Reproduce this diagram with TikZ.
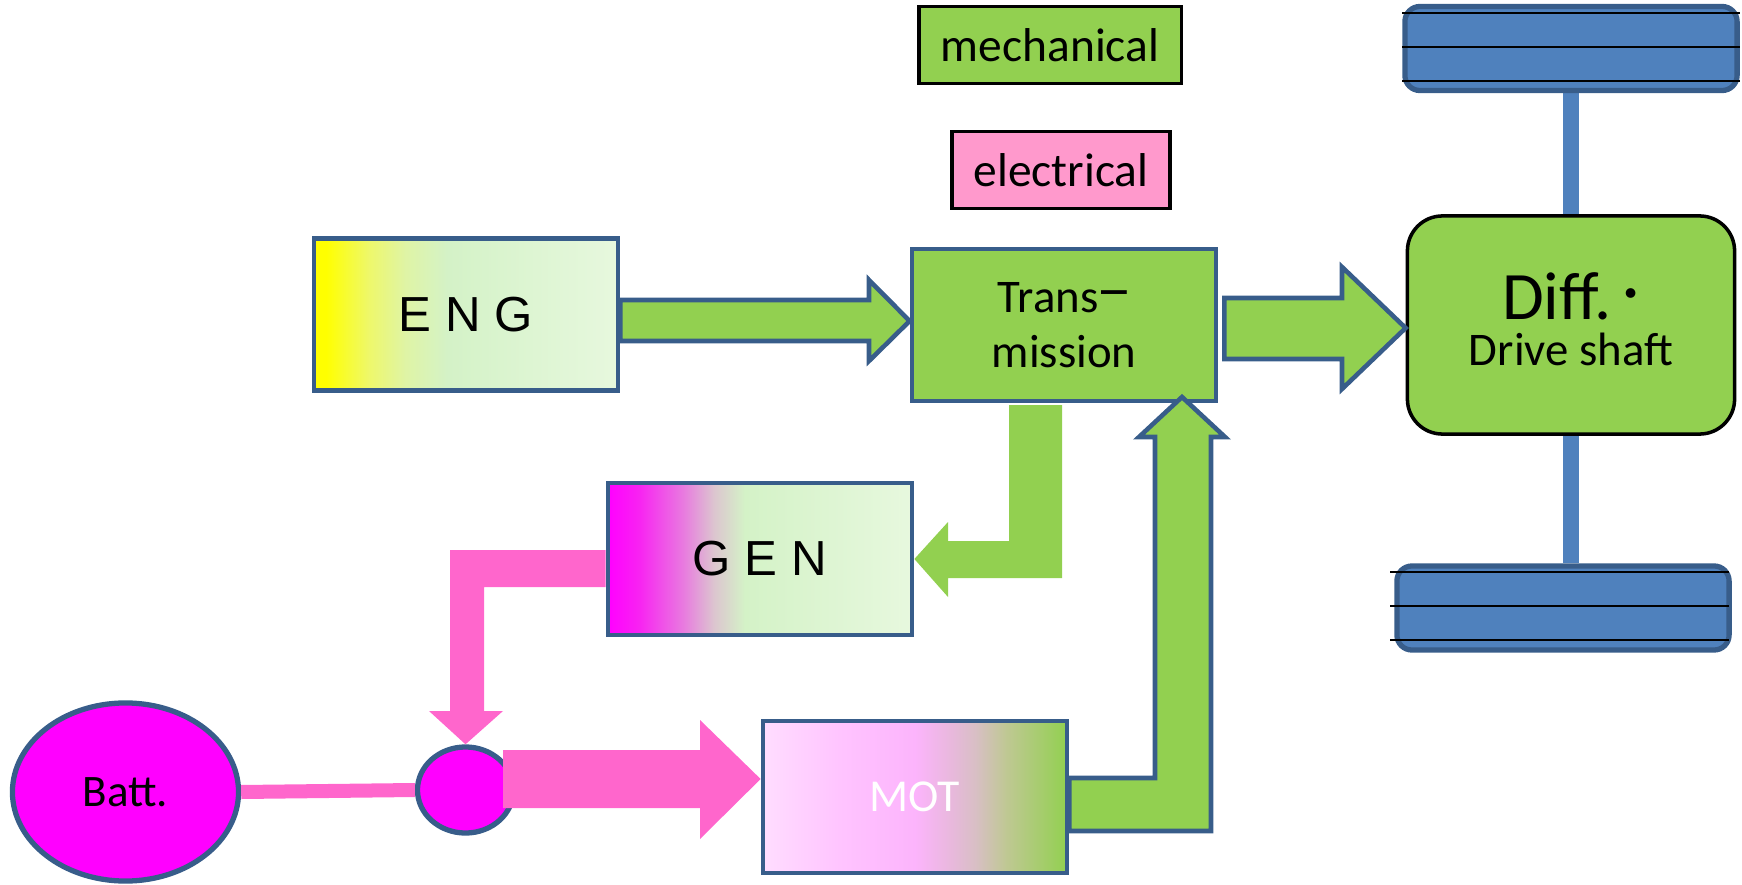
\documentclass[tikz,border=0pt]{standalone}
\usepackage{fontspec}
\setmainfont{Carlito}
\newfontfamily\arialfont{Liberation Sans}
\usetikzlibrary{positioning,calc,shapes.geometric,backgrounds}
\definecolor{HybGreen}{RGB}{146,208,80}
\definecolor{HybPink}{RGB}{255,102,204}
\definecolor{HybLegendPink}{RGB}{255,153,204}
\definecolor{HybBorder}{RGB}{56,93,138}
\definecolor{HybWheel}{RGB}{79,129,189}
\definecolor{HybMagenta}{RGB}{255,0,255}
\definecolor{engA}{RGB}{238,248,106}
\definecolor{engB}{RGB}{223,244,165}
\definecolor{engC}{RGB}{212,242,199}
\definecolor{engD}{RGB}{231,248,222}
\definecolor{genA}{RGB}{248,34,242}
\definecolor{genB}{RGB}{232,124,223}
\definecolor{genC}{RGB}{220,198,207}
\definecolor{motA}{RGB}{255,221,255}
\definecolor{motB}{RGB}{255,196,255}
\definecolor{motC}{RGB}{252,180,252}
\definecolor{motD}{RGB}{232,184,220}
\definecolor{motE}{RGB}{216,191,196}
\definecolor{motF}{RGB}{191,200,147}
\pgfdeclarehorizontalshading{engshade}{100bp}{color(0bp)=(yellow); color(25bp)=(yellow); color(27bp)=(yellow); color(34bp)=(engA); color(40bp)=(engB); color(47bp)=(engC); color(75bp)=(engD); color(100bp)=(engD)}
\pgfdeclarehorizontalshading{genshade}{100bp}{color(0bp)=(HybMagenta); color(25bp)=(HybMagenta); color(30bp)=(genA); color(37.5bp)=(genB); color(42.5bp)=(genC); color(47.5bp)=(engC); color(75bp)=(engD); color(100bp)=(engD)}
\pgfdeclarehorizontalshading{motshade}{100bp}{color(0bp)=(motA); color(25bp)=(motA); color(37.5bp)=(motB); color(50bp)=(motC); color(56bp)=(motD); color(60bp)=(motE); color(65bp)=(motF); color(75bp)=(HybGreen); color(100bp)=(HybGreen)}

\begin{document}
\begin{tikzpicture}[
x=0.01cm,y=-0.01cm,
box/.style={
rectangle,
draw=HybBorder,
line width=1.3pt,
minimum width=3.04cm,
minimum height=1.52cm,
inner sep=0pt,
align=center
},
legend/.style={
rectangle,
draw=black,
line width=0.9pt,
minimum height=0.77cm,
font=\fontsize{13.5}{16}\selectfont
},
wheel/.style={
rectangle,
rounded corners=0.15cm,
draw=HybBorder,
fill=HybWheel,
line width=1.5pt,
minimum width=3.32cm,
minimum height=0.84cm
},
battery/.style={
ellipse,
draw=HybBorder,
fill=HybMagenta,
line width=1.5pt,
inner sep=0pt
},
marrow/.style={
draw=HybBorder,
fill=HybGreen,
line width=1.3pt,
line join=miter
},
mflow/.style={fill=HybGreen},
eflow/.style={fill=HybPink},
axle/.style={draw=HybWheel, line width=0.16cm},
spaced/.style={font=\arialfont\fontsize{14}{16}\selectfont}
]
\useasboundingbox (0,0) rectangle (1742,885);

% legend
\node[legend, fill=HybGreen, minimum width=2.62cm] (mech) at (1050,45) {mechanical};
\node[legend, fill=HybLegendPink, minimum width=2.18cm] (elec) at (1061,170) {electrical};

% blocks
\node[box, shade, shading=engshade, spaced] (eng) at (466,314.5) {E N G};
\node[box, fill=HybGreen, font=\fontsize{13.3}{15.5}\selectfont] (trans) at (1064,325) {Trans\raisebox{0.06em}{\scalebox{0.75}[1.3]{—}}\\mission};
\node[box, shade, shading=genshade, spaced] (gen) at (760,559) {G E N};
\node[box, shade, shading=motshade, text=white, font=\fontsize{13}{15}\selectfont] (mot) at (915,797) {MOT};
\node[rectangle, rounded corners=0.35cm, draw=black, line width=1pt, fill=HybGreen,
minimum width=3.27cm, minimum height=2.18cm, align=center,
font=\fontsize{19.3}{13}\selectfont] (diff) at (1571,325) {Diff.\,\raisebox{0.1em}{·}\\{\fontsize{13.3}{13}\selectfont Drive shaft}\\[-9.5pt]};

% wheels
\node[wheel] (wtop) at (1571,48.5) {};
\node[wheel] (wbot) at (1563,608) {};
\foreach \f in {0.1,0.48,0.86} {
\draw[black, line width=0.6pt] ($(wtop.north west)!\f!(wtop.south west)$) -- ($(wtop.north east)!\f!(wtop.south east)$);
\draw[black, line width=0.6pt] ($(wbot.north west)!\f!(wbot.south west)+(-4,0)$) -- ($(wbot.north east)!\f!(wbot.south east)+(-3,0)$);
}
\begin{scope}[on background layer]
\draw[axle] (wtop) -- (diff);
\draw[axle] (diff.south) -- (diff.south |- wbot.north);
\end{scope}

% battery side
\node[battery, minimum width=2.26cm, minimum height=1.78cm, font=\fontsize{12.8}{15}\selectfont] (batt) at (125.5,792) {Batt.};
\node[battery, minimum width=0.96cm, minimum height=0.86cm] (junc) at (465.5,790) {};
\draw[HybPink, line width=0.14cm] (batt.east) -- (junc.west);

% mechanical flows
\draw[marrow] (eng.east |- 0,300) -- (869,300) -- (869,280) -- (trans.west |- 0,321)
-- (869,361) -- (869,341) -- (eng.east |- 0,341) -- cycle;
\draw[marrow] ($(trans.east |- 0,298)+(6,0)$) -- (1342,298) -- (1342,267) -- (diff.west |- 0,328)
-- (1342,389) -- (1342,359) -- ($(trans.east |- 0,359)+(6,0)$) -- cycle;
\fill[mflow] (1009,405) -- (1062,405) -- (1062,578) -- (948,578) -- (948,597) -- (gen.east |- 0,559)
-- (948,522) -- (948,541) -- (1009,541) -- cycle;
\draw[marrow] (mot.east |- 0,778) -- (1155,778) -- (1155,437) -- (1139,437) -- (1182,397)
-- (1225,437) -- (1211,437) -- (1211,831) -- (mot.east |- 0,831) -- cycle;

% electrical flows
\fill[eflow] (gen.west |- 0,550) -- (450,550) -- (450,711) -- (429,711) -- (junc.north)
-- (503,711) -- (484,711) -- (484,587) -- (gen.west |- 0,587) -- cycle;
\fill[eflow] ($(junc.east)+(-13,-40)$) -- (700,750) -- (700,720) -- (mot.west |- 0,779)
-- (700,839) -- (700,808) -- ($(junc.east)+(-13,18)$) -- cycle;

\end{tikzpicture}
\end{document}
